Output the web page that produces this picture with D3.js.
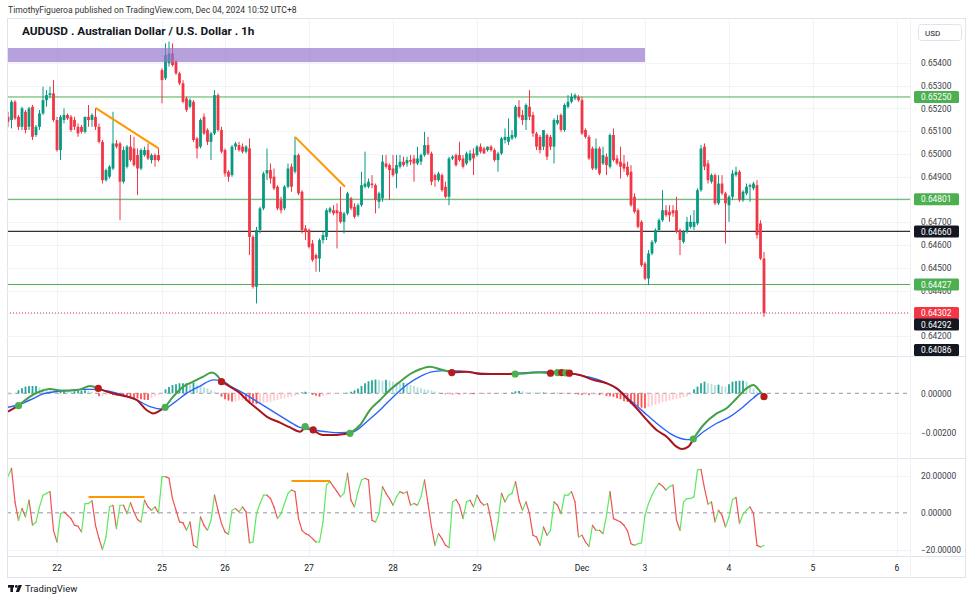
<!DOCTYPE html>
<html>
<head>
<meta charset="utf-8">
<script src="https://cdn.jsdelivr.net/npm/d3@7"></script>
<style>
  body { margin: 0; background: #fff; }
  text { font-family: Roboto, "DejaVu Sans", sans-serif; }
</style>
</head>
<body>
<svg id="chart" width="975" height="604"></svg>
<script>
// AUDUSD 1h candles, bar 0 = Nov 21 10:00 (UTC+8), one bar per trading hour
const opens = [
  0.65163,0.65149,0.65229,0.65163,0.65119,0.65185,0.65119,0.65207,0.65083,0.65119,
  0.65178,0.65236,0.65258,0.65266,0.65149,0.65017,0.65149,0.65171,0.65163,0.65149,
  0.65119,0.65119,0.65097,0.65163,0.65149,0.65163,0.65119,0.65053,0.64885,0.64900,
  0.64936,0.65046,0.65046,0.64878,0.64944,0.65032,0.65024,0.64995,0.64936,0.64995,
  0.65017,0.64973,0.64995,0.64995,0.65368,0.65332,0.65398,0.65441,0.65405,0.65354,
  0.65310,0.65244,0.65207,0.65229,0.65068,0.65032,0.65163,0.65105,0.65053,0.65090,
  0.65258,0.65105,0.65017,0.64922,0.64907,0.65032,0.65039,0.65032,0.65010,0.65024,
  0.64636,0.64417,0.64666,0.64761,0.64914,0.64929,0.64900,0.64856,0.64797,0.64761,
  0.64856,0.64944,0.64922,0.64995,0.64834,0.64673,0.64666,0.64607,0.64556,0.64541,
  0.64622,0.64636,0.64746,0.64753,0.64753,0.64746,0.64702,0.64739,0.64805,0.64768,
  0.64731,0.64775,0.64856,0.64856,0.64870,0.64863,0.64790,0.64805,0.64958,0.64951,
  0.64936,0.64914,0.64944,0.64966,0.64958,0.64973,0.64980,0.64958,0.64966,0.64995,
  0.65039,0.65002,0.64907,0.64885,0.64907,0.64856,0.64812,0.64980,0.64995,0.64995,
  0.64980,0.64958,0.64973,0.65002,0.64995,0.65032,0.65024,0.65017,0.65032,0.65017,
  0.64973,0.65002,0.65061,0.65053,0.65068,0.65075,0.65207,0.65171,0.65149,0.65207,
  0.65171,0.65090,0.65075,0.65032,0.65083,0.65075,0.65032,0.65134,0.65171,0.65105,
  0.65207,0.65229,0.65244,0.65251,0.65236,0.65105,0.65075,0.65024,0.64936,0.65024,
  0.64958,0.64988,0.64944,0.65083,0.64980,0.64966,0.64958,0.64944,0.64922,0.64812,
  0.64753,0.64702,0.64519,0.64453,0.64563,0.64614,0.64666,0.64709,0.64753,0.64746,
  0.64753,0.64753,0.64666,0.64614,0.64658,0.64680,0.64680,0.64695,0.64841,0.65032,
  0.64958,0.64878,0.64907,0.64783,0.64870,0.64827,0.64775,0.64812,0.64907,0.64922,
  0.64797,0.64827,0.64856,0.64849,0.64863,0.64695,0.64541
];
const highs = [
  0.65185,0.65236,0.65236,0.65171,0.65207,0.65193,0.65207,0.65215,0.65127,0.65193,
  0.65295,0.65280,0.65295,0.65324,0.65163,0.65171,0.65200,0.65178,0.65171,0.65163,
  0.65134,0.65127,0.65163,0.65215,0.65178,0.65200,0.65134,0.65061,0.64936,0.64951,
  0.65185,0.65061,0.65053,0.65032,0.65039,0.65083,0.65075,0.65024,0.65024,0.65032,
  0.65046,0.65002,0.65002,0.65024,0.65376,0.65485,0.65493,0.65485,0.65412,0.65361,
  0.65324,0.65251,0.65244,0.65236,0.65075,0.65156,0.65178,0.65112,0.65097,0.65280,
  0.65266,0.65119,0.65024,0.64929,0.65039,0.65053,0.65053,0.65046,0.65039,0.65068,
  0.64644,0.64680,0.64768,0.64922,0.65024,0.64958,0.64936,0.64863,0.64812,0.64863,
  0.64958,0.64958,0.65075,0.65002,0.64841,0.64687,0.64673,0.64622,0.64563,0.64629,
  0.64658,0.64761,0.64768,0.64775,0.64783,0.64856,0.64746,0.64834,0.64812,0.64783,
  0.64783,0.64922,0.65010,0.64892,0.64907,0.64870,0.64834,0.64995,0.64995,0.64958,
  0.64995,0.64995,0.64995,0.64988,0.64988,0.64995,0.64995,0.65032,0.65002,0.65097,
  0.65075,0.65010,0.64914,0.64922,0.64914,0.64878,0.64988,0.64995,0.65002,0.65053,
  0.64995,0.65010,0.65017,0.65024,0.65039,0.65046,0.65032,0.65032,0.65039,0.65024,
  0.65010,0.65075,0.65112,0.65156,0.65105,0.65215,0.65236,0.65193,0.65222,0.65280,
  0.65185,0.65097,0.65083,0.65105,0.65090,0.65083,0.65156,0.65171,0.65178,0.65222,
  0.65258,0.65266,0.65266,0.65258,0.65251,0.65112,0.65083,0.65032,0.65068,0.65032,
  0.65032,0.65002,0.65090,0.65112,0.64995,0.65032,0.64995,0.64966,0.64951,0.64827,
  0.64761,0.64709,0.64527,0.64578,0.64622,0.64673,0.64717,0.64841,0.64775,0.64775,
  0.64775,0.64812,0.64673,0.64666,0.64724,0.64731,0.64753,0.64849,0.65039,0.65046,
  0.64973,0.64914,0.64914,0.64907,0.64907,0.64834,0.64819,0.64929,0.64944,0.64929,
  0.64841,0.64870,0.64870,0.64878,0.64885,0.64709,0.64570
];
const lows = [
  0.65119,0.65112,0.65149,0.65105,0.65105,0.65090,0.65105,0.65061,0.65075,0.65105,
  0.65171,0.65207,0.65244,0.65141,0.65010,0.64973,0.65134,0.65149,0.65097,0.65105,
  0.65075,0.65090,0.65090,0.65119,0.65119,0.65105,0.65046,0.64870,0.64878,0.64892,
  0.64929,0.65024,0.64709,0.64870,0.64936,0.64966,0.64944,0.64819,0.64929,0.64988,
  0.64973,0.64958,0.64944,0.64966,0.65222,0.65324,0.65383,0.65383,0.65346,0.65302,
  0.65222,0.65185,0.65200,0.65053,0.64980,0.65024,0.65083,0.65039,0.64973,0.65083,
  0.65097,0.65002,0.64900,0.64878,0.64900,0.65017,0.65010,0.65002,0.65002,0.64556,
  0.64409,0.64344,0.64651,0.64753,0.64885,0.64870,0.64841,0.64753,0.64739,0.64753,
  0.64849,0.64834,0.64914,0.64819,0.64651,0.64622,0.64585,0.64527,0.64483,0.64483,
  0.64607,0.64622,0.64739,0.64731,0.64585,0.64695,0.64651,0.64731,0.64753,0.64717,
  0.64724,0.64768,0.64849,0.64849,0.64849,0.64739,0.64761,0.64790,0.64936,0.64797,
  0.64900,0.64849,0.64936,0.64944,0.64944,0.64951,0.64878,0.64951,0.64951,0.64988,
  0.64995,0.64863,0.64856,0.64878,0.64834,0.64805,0.64775,0.64973,0.64944,0.64966,
  0.64936,0.64951,0.64966,0.64907,0.64988,0.65002,0.65002,0.65010,0.65010,0.64966,
  0.64922,0.64995,0.65046,0.65039,0.65061,0.65068,0.65156,0.65127,0.65105,0.65149,
  0.65075,0.65017,0.65002,0.65017,0.64973,0.65017,0.64958,0.65127,0.65097,0.65097,
  0.65200,0.65222,0.65236,0.65229,0.65083,0.65068,0.64973,0.64929,0.64929,0.64907,
  0.64951,0.64907,0.64936,0.64966,0.64951,0.64892,0.64922,0.64900,0.64768,0.64739,
  0.64673,0.64505,0.64446,0.64424,0.64556,0.64607,0.64658,0.64702,0.64724,0.64702,
  0.64724,0.64651,0.64556,0.64607,0.64651,0.64673,0.64666,0.64687,0.64834,0.64929,
  0.64870,0.64870,0.64775,0.64775,0.64819,0.64607,0.64702,0.64797,0.64900,0.64790,
  0.64790,0.64819,0.64790,0.64841,0.64629,0.64534,0.64285
];
const closes = [
  0.65141,0.65229,0.65156,0.65119,0.65200,0.65105,0.65200,0.65075,0.65119,0.65178,
  0.65236,0.65258,0.65266,0.65149,0.65017,0.65163,0.65171,0.65156,0.65105,0.65119,
  0.65090,0.65097,0.65163,0.65149,0.65171,0.65119,0.65053,0.64885,0.64929,0.64944,
  0.65046,0.65032,0.64878,0.65017,0.65032,0.64973,0.64951,0.64936,0.65017,0.65017,
  0.64980,0.64995,0.64973,0.64973,0.65324,0.65434,0.65441,0.65390,0.65354,0.65310,
  0.65229,0.65193,0.65236,0.65061,0.65024,0.65149,0.65090,0.65053,0.65090,0.65258,
  0.65105,0.65010,0.64914,0.64900,0.65032,0.65046,0.65017,0.65010,0.65032,0.64636,
  0.64417,0.64666,0.64761,0.64914,0.64929,0.64892,0.64849,0.64761,0.64753,0.64856,
  0.64936,0.64856,0.64995,0.64827,0.64666,0.64658,0.64592,0.64534,0.64541,0.64622,
  0.64644,0.64753,0.64761,0.64739,0.64739,0.64702,0.64739,0.64827,0.64761,0.64724,
  0.64775,0.64863,0.64870,0.64878,0.64863,0.64797,0.64827,0.64966,0.64944,0.64929,
  0.64907,0.64951,0.64966,0.64951,0.64973,0.64966,0.64958,0.64980,0.64995,0.65039,
  0.65002,0.64878,0.64885,0.64914,0.64841,0.64812,0.64980,0.64988,0.64951,0.64973,
  0.64944,0.65002,0.65002,0.64980,0.65032,0.65010,0.65002,0.65032,0.65017,0.64973,
  0.65002,0.65068,0.65075,0.65075,0.65083,0.65207,0.65163,0.65149,0.65215,0.65163,
  0.65090,0.65032,0.65017,0.65105,0.64988,0.65032,0.65149,0.65149,0.65105,0.65215,
  0.65229,0.65251,0.65258,0.65236,0.65090,0.65075,0.64980,0.64936,0.65024,0.64914,
  0.64995,0.64951,0.65083,0.64973,0.64958,0.64944,0.64936,0.64907,0.64775,0.64746,
  0.64680,0.64512,0.64453,0.64563,0.64614,0.64666,0.64709,0.64753,0.64731,0.64731,
  0.64739,0.64658,0.64622,0.64658,0.64702,0.64702,0.64702,0.64841,0.65024,0.64944,
  0.64885,0.64907,0.64783,0.64870,0.64827,0.64783,0.64812,0.64914,0.64922,0.64797,
  0.64834,0.64856,0.64863,0.64870,0.64644,0.64541,0.64302
];

// MACD panel: [bar, value]
const macdLine = [
  [0,-0.00093],[6.3,-0.00017],[9.1,0.00009],[12,0.00022],[14.9,0.00014],[17.7,0.00014],[20.6,0.0002],[23.4,0.00037],
  [28.2,0.00009],[31,-0.00005],[33.9,-0.00017],[36.8,-0.00034],[39.6,-0.00085],[41.5,-0.00102],[43.4,-0.00088],
  [47.2,-0.00017],[50.1,0.00034],[52.9,0.00059],[55.8,0.00085],[58.2,0.00105],[59.6,0.00093],
  [63.4,0.00034],[66.3,0],[68.2,-0.00034],[71,-0.00076],[73.9,-0.00118],[77.7,-0.00149],[80.6,-0.00173],[83.4,-0.00195],
  [90.1,-0.00212],[93,-0.00212],
  [100.6,-0.00161],[103.4,-0.00085],[106.3,-0.00034],[109.1,0.00017],[112,0.00059],[114.9,0.00098],[117.7,0.00122],
  [120.6,0.00135],[123.4,0.00122],[131,0.0011],[135,0.00098],[138.7,0.00098],[148.2,0.00102],[152,0.00105],
  [163.4,0.00093],[167.2,0.00068],[171,0.00051],[173.9,0.00025],[176.8,-0.00025],[179.6,-0.00076],[182.5,-0.00135],
  [185.3,-0.00186],[188.2,-0.0022],[191,-0.00271],[192.5,-0.00283],[194.4,-0.00271],
  [198.7,-0.00161],[202.5,-0.00102],[205.3,-0.00076],[208.2,-0.00025],[211,0.00025],[212.9,0.00042],[214.9,0.00009]
];
const signalLine = [
  [0,-0.00071],[2.9,-0.00059],[6.3,-0.00034],[10.1,-0.00003],[13.9,0.00009],[17.7,0.00014],[21.5,0.0002],[25.3,0.0002],
  [29.1,0.00009],[33,-0.00009],[36.8,-0.00034],[40.6,-0.00068],[44.4,-0.00081],[47.2,-0.00051],[51,0],[54.9,0.00037],
  [58.7,0.00068],[61,0.00064],[63.8,0.00034],[68.2,-0.00009],[72,-0.00051],[75.8,-0.00093],[79.6,-0.00135],[83.4,-0.00173],
  [87.2,-0.00186],[91,-0.00195],[94.9,-0.002],[98.7,-0.00195],[102.5,-0.00144],[106.3,-0.00085],[110.1,-0.00017],
  [113.9,0.00042],[117.7,0.00085],[121.5,0.0011],[125.3,0.00115],[129.1,0.00113],[134.9,0.00102],[140.6,0.00098],
  [148.2,0.00105],[155.8,0.0011],[160.6,0.00102],[165.3,0.00085],[170.1,0.00059],[173.9,0.00025],[177.7,-0.00034],
  [181.5,-0.00093],[185.3,-0.00152],[189.1,-0.00203],[192,-0.00228],[194,-0.00235],[195.8,-0.00232],[198.7,-0.00195],
  [202.5,-0.00152],[206.3,-0.00118],[210.1,-0.00068],[212.9,-0.00025],[214.9,0],[216,-0.00012]
];
// crossover dots: [bar, value, 1 = up / -1 = down]
const macdCrosses = [
  [3,-0.00063,1],[25.8,0.00025,-1],[44.9,-0.00071,1],[61,0.00059,-1],[84.9,-0.00169,1],[87.2,-0.00186,-1],
  [97.7,-0.00203,1],[126.8,0.00105,-1],[144.9,0.00098,1],[155,0.00102,-1],[157,0.00105,1],[158.2,0.00105,-1],
  [159.4,0.00104,1],[160.4,0.00102,-1],[195.8,-0.00232,1],[216,-0.00017,-1]
];
const hist = [
  -0.00008,-0.00007,-0.00003,0.00015,0.00026,0.00034,0.00037,0.00037,0.00037,0.0003,
  0.00024,0.00015,0.00012,0.0001,0.00008,0.0001,0.00012,0.0001,0.00008,0.0001,
  0.00012,0.00014,0.00015,0.00012,0.00008,0.00003,-0.00015,-0.00014,-0.00008,-0.00006,
  -0.00009,-0.00012,-0.00014,-0.00016,-0.00017,-0.0002,-0.00022,-0.00026,-0.0003,-0.00033,
  -0.00034,-0.00022,-0.00015,-0.00008,-0.00003,0.0002,0.00032,0.00042,0.00046,0.00051,
  0.00051,0.00051,0.00046,0.00054,0.00042,0.00037,0.0003,0.00025,0.00017,0.00008,
  0.00003,-0.00017,-0.0003,-0.00037,-0.00042,-0.00042,-0.00037,-0.00034,-0.00037,-0.00046,
  -0.00051,-0.00054,-0.00051,-0.00048,-0.00044,-0.00042,-0.00037,-0.00034,-0.00027,-0.00025,
  -0.0002,-0.00017,-0.00012,-0.00008,0.00005,0.00008,0.00005,-0.00008,-0.00012,-0.00017,
  -0.00014,-0.00009,-0.00006,-0.00004,-0.00003,-0.00002,-0.00001,0.00003,0.00008,0.00015,
  0.00024,0.00037,0.00051,0.00061,0.00066,0.0007,0.00068,0.00064,0.00068,0.00064,
  0.00059,0.00054,0.00051,0.00054,0.00051,0.00042,0.00037,0.0003,0.00025,0.0002,
  0.00017,0.00014,0.00009,0.00004,-0.00003,-0.00005,-0.00005,-0.00006,-0.00005,-0.00006,
  -0.00005,-0.00003,-0.00004,-0.00005,-0.00003,-0.00002,-0.00003,-0.00002,-0.00001,-0.00003,
  -0.00002,0.00001,-0.00002,-0.00001,0.00004,0.0001,0.00012,0.0001,0.00006,0.00005,
  0.00003,0.00002,0.00003,0.00004,0.00002,-0.00002,0.00002,0.00003,-0.00003,0.00002,
  -0.00003,-0.00002,-0.00004,-0.00006,-0.00008,-0.00007,-0.00009,-0.00008,-0.00007,-0.00009,
  -0.00008,-0.00014,-0.00015,-0.00018,-0.00025,-0.0003,-0.0004,-0.00044,-0.00054,-0.00059,
  -0.00066,-0.00073,-0.00076,-0.0007,-0.00062,-0.00057,-0.00051,-0.00044,-0.00042,-0.00037,
  -0.00032,-0.00028,-0.00025,-0.0002,-0.00017,-0.00008,0.0002,0.00034,0.00051,0.00059,
  0.00051,0.00046,0.00042,0.00044,0.00037,0.00034,0.00046,0.00059,0.00062,0.00064,
  0.00064,0.00059,0.00042,0.00025,0.00009,-0.00003,-0.0001
];
// lower oscillator, one value per bar
const osc = [
  19.5,24.0,5.9,-4.0,2.3,-2.2,6.8,-6.7,-4.9,3.2,
  9.5,10.5,11.4,-9.4,-15.7,-0.4,0.5,-1.3,-3.1,-6.7,
  -7.2,-10.3,5.0,5.0,6.5,-6.7,-13.9,-19.8,-13.0,3.2,
  4.1,-8.5,4.1,4.1,-0.4,5.4,0.5,-3.6,-4.9,6.8,
  3.2,1.4,3.2,0,19.5,19.5,18.6,7.7,1.4,-4.9,
  -5.4,-9.4,-4.9,-17.5,-18.7,-2.2,-6.7,-9.4,-4.0,9.5,
  1.4,-5.8,-10.3,-11.5,1.4,2.3,0.5,3.2,0.5,-16.2,
  -15.7,-0.4,5.0,9.5,9.5,7.7,3.2,-3.1,-0.4,5.0,
  10.5,12.3,11.4,-3.1,-9.4,-11.2,-12.1,-13.9,-15.7,-15.7,
  -4.9,15.0,16.8,14.1,11.4,8.6,10.5,21.3,6.8,3.2,
  11.4,17.7,18.6,17.7,-4.0,-4.9,-0.4,14.1,10.5,7.7,
  4.1,8.6,11.4,10.5,11.4,4.1,5.0,4.1,8.6,17.7,
  5.0,-7.6,-17.5,-11.2,-13.9,-17.5,-18.7,5.9,7.2,4.1,
  -3.1,5.9,6.8,3.2,9.5,5.9,4.1,5.0,-4.0,-14.8,
  -4.9,10.5,5.9,9.5,10.5,16.8,6.8,1.4,5.9,-0.4,
  -12.1,-13.0,-17.5,-7.6,-12.1,-9.4,5.9,4.1,-0.4,9.5,
  9.5,11.4,5.9,-13.0,-12.1,-15.7,-18.0,-6.7,-9.4,-9.4,
  -11.2,-1.3,11.4,-3.1,-4.0,-4.9,-6.7,-9.7,-16.6,-17.5,
  -16.6,-16.2,-1.3,5.0,9.5,13.2,15.9,14.4,12.3,14.1,
  15.0,-4.0,-9.4,5.9,7.7,7.7,8.6,23.1,23.4,13.2,
  4.7,5.9,-4.9,1.4,-1.3,-7.6,-2.2,7.2,8.3,-5.8,
  -0.7,1.4,3.2,-0.4,-17.5,-18.4,-17.5
];

// time axis: bar index and label
const timeTickBars = [14, 44, 62, 86, 110, 134, 164, 182, 206, 230, 254];
const timeTickLabels = ["22", "25", "26", "27", "28", "29", "Dec", "3", "4", "5", "6"];

const priceTicks = [0.654, 0.653, 0.652, 0.651, 0.650, 0.649, 0.648, 0.647, 0.646, 0.645, 0.644, 0.643, 0.642];
const macdTicks = [0, -0.002];
const oscTicks = [20, 0, -20];

// horizontal drawings and right-axis badges
const greenLevels = [0.65250, 0.64801, 0.64427];
const blackLevel = 0.64660;
const lastPrice = 0.64302;
const badgeValues = [0.65250, 0.64801, 0.64660, 0.64427, 0.64302, 0.64292, 0.64086];
const badgeKinds = ["green", "green", "black", "green", "red", "black", "black"];
const zoneTop = 0.65465, zoneBottom = 0.65403, zoneEndBar = 182;
const trendLines = [[25, 0.65202, 43, 0.65024], [82, 0.65075, 96.3, 0.64856]];
const oscMarks = [[23, 39, 8.6], [81, 92, 17.1]];

// ---------------------------------------------------------------
const svg = d3.select("#chart");
const paneL = 7, paneR = 910, frameR = 965;
const mainTop = 20, mainBot = 356, macdBot = 458, oscBot = 556, frameBot = 578;

const x = d3.scaleLinear().domain([0, 216]).range([8, 764]);
const yMain = d3.scaleLinear().domain([0.654, 0.642]).range([62.8, 336.2]);
const yMacd = d3.scaleLinear().domain([0, -0.002]).range([393.3, 432.7]);
const yOsc = d3.scaleLinear().domain([20, -20]).range([475.7, 550]);

const col = {
  up: "#089981", down: "#f23645", grid: "#f0f3fa", border: "#e0e3eb", text: "#131722",
  green: "#4caf50", black: "#131722", red: "#f23645"
};

// header
svg.append("text").attr("x", 8).attr("y", 13).attr("font-size", 8.6).attr("fill", "#333")
  .text("TimothyFigueroa published on TradingView.com, Dec 04, 2024 10:52 UTC+8");

// frame and separators
const frame = svg.append("g").attr("stroke", col.border).attr("fill", "none");
frame.append("rect").attr("x", paneL + 0.5).attr("y", mainTop - 1.5).attr("width", frameR - paneL).attr("height", frameBot - mainTop + 1);
[mainBot, macdBot, oscBot].forEach(y => frame.append("line").attr("x1", paneL).attr("x2", frameR).attr("y1", y + 0.5).attr("y2", y + 0.5));
frame.append("line").attr("x1", paneR + 0.5).attr("x2", paneR + 0.5).attr("y1", mainTop).attr("y2", frameBot).attr("stroke", "#f0f1f4");

// grid
const grid = svg.append("g").attr("stroke", col.grid);
timeTickBars.forEach(b => grid.append("line").attr("x1", Math.round(x(b)) + 0.5).attr("x2", Math.round(x(b)) + 0.5)
  .attr("y1", mainTop).attr("y2", oscBot));
priceTicks.forEach(p => grid.append("line").attr("x1", paneL).attr("x2", paneR)
  .attr("y1", Math.round(yMain(p)) + 0.5).attr("y2", Math.round(yMain(p)) + 0.5));
grid.append("line").attr("x1", paneL).attr("x2", paneR).attr("y1", Math.round(yMacd(-0.002)) + 0.5).attr("y2", Math.round(yMacd(-0.002)) + 0.5);
[20, -20].forEach(v => grid.append("line").attr("x1", paneL).attr("x2", paneR)
  .attr("y1", Math.round(yOsc(v)) + 0.5).attr("y2", Math.round(yOsc(v)) + 0.5));

// clip paths
const defs = svg.append("defs");
defs.append("clipPath").attr("id", "clipMain").append("rect").attr("x", paneL + 1).attr("y", mainTop).attr("width", paneR - paneL - 1).attr("height", mainBot - mainTop);
defs.append("clipPath").attr("id", "clipMacd").append("rect").attr("x", paneL + 1).attr("y", mainBot + 1).attr("width", paneR - paneL - 1).attr("height", macdBot - mainBot - 1);
defs.append("clipPath").attr("id", "clipOsc").append("rect").attr("x", paneL + 1).attr("y", macdBot + 1).attr("width", paneR - paneL - 1).attr("height", oscBot - macdBot - 1);

// ---------------- main pane ----------------
const main = svg.append("g").attr("clip-path", "url(#clipMain)");

main.selectAll(".lvl").data(greenLevels).join("line").attr("class", "lvl")
  .attr("x1", paneL).attr("x2", paneR).attr("y1", d => yMain(d)).attr("y2", d => yMain(d))
  .attr("stroke", col.green).attr("stroke-width", 1);
main.append("line").attr("x1", paneL).attr("x2", paneR).attr("y1", yMain(blackLevel)).attr("y2", yMain(blackLevel))
  .attr("stroke", "#333").attr("stroke-width", 1.3);
main.append("line").attr("x1", paneL).attr("x2", paneR).attr("y1", yMain(lastPrice)).attr("y2", yMain(lastPrice))
  .attr("stroke", col.red).attr("stroke-width", 1).attr("stroke-dasharray", "1 2");

const bars = d3.range(opens.length);
const candle = main.append("g").selectAll("g").data(bars).join("g")
  .attr("stroke", i => closes[i] >= opens[i] ? col.up : col.down)
  .attr("fill", i => closes[i] >= opens[i] ? col.up : col.down);
candle.append("line").attr("x1", i => x(i)).attr("x2", i => x(i))
  .attr("y1", i => yMain(highs[i])).attr("y2", i => yMain(lows[i])).attr("stroke-width", 1);
candle.append("rect").attr("stroke", "none")
  .attr("x", i => x(i) - 1.4).attr("width", 2.8)
  .attr("y", i => yMain(Math.max(opens[i], closes[i])))
  .attr("height", i => Math.max(1, Math.abs(yMain(opens[i]) - yMain(closes[i]))));

// purple supply zone (semi-transparent over candles)
main.append("rect").attr("x", paneL).attr("width", x(zoneEndBar) - paneL)
  .attr("y", yMain(zoneTop)).attr("height", yMain(zoneBottom) - yMain(zoneTop))
  .attr("fill", "rgb(149,117,205)").attr("opacity", 0.68);

main.selectAll(".trend").data(trendLines).join("line").attr("class", "trend")
  .attr("x1", d => x(d[0])).attr("y1", d => yMain(d[1])).attr("x2", d => x(d[2])).attr("y2", d => yMain(d[3]))
  .attr("stroke", "#ff9800").attr("stroke-width", 2);

svg.append("text").attr("x", 22).attr("y", 35).attr("font-size", 11.8).attr("font-weight", "bold")
  .attr("font-family", "DejaVu Sans").attr("fill", col.text)
  .text("AUDUSD . Australian Dollar / U.S. Dollar . 1h");

// price axis
const axisFmt = d3.format(".5f");
const priceAxis = svg.append("g").attr("transform", `translate(${paneR + 4},0)`)
  .call(d3.axisRight(yMain).tickValues(priceTicks).tickFormat(axisFmt).tickSize(0).tickPadding(7));
priceAxis.select(".domain").remove();
priceAxis.selectAll("text").attr("font-size", 8.4).attr("fill", "#3a3e4a").attr("font-family", "Roboto");

// badges with simple collision push-down
const badgeFill = { green: col.green, black: col.black, red: col.red };
let prevY = -Infinity;
const badgeY = badgeValues.map(v => {
  let y = Math.max(yMain(v), prevY + 11.5);
  y = Math.min(y, mainBot - 6);
  prevY = y;
  return y;
});
const badge = svg.append("g").selectAll("g").data(badgeValues).join("g")
  .attr("transform", (d, i) => `translate(${paneR + 4},${badgeY[i]})`);
badge.append("rect").attr("x", 0).attr("y", -6).attr("width", 45).attr("height", 12).attr("rx", 1.5)
  .attr("fill", (d, i) => badgeFill[badgeKinds[i]]);
badge.append("text").attr("x", 7).attr("y", 3.2).attr("font-size", 8.4).attr("fill", "#fff").attr("font-family", "Roboto")
  .text(d => axisFmt(d));

// currency box
svg.append("rect").attr("x", 918.5).attr("y", 24.5).attr("width", 43).attr("height", 16).attr("rx", 3)
  .attr("fill", "#fff").attr("stroke", "#e0e3eb");
svg.append("text").attr("x", 925).attr("y", 35.5).attr("font-size", 8).attr("fill", col.text).text("USD");

// ---------------- MACD pane ----------------
const macdG = svg.append("g").attr("clip-path", "url(#clipMacd)");
macdG.append("line").attr("x1", paneL).attr("x2", paneR).attr("y1", yMacd(0)).attr("y2", yMacd(0))
  .attr("stroke", "#9598a1").attr("stroke-dasharray", "4 4");

const histColor = i => {
  const h = hist[i], p = i > 0 ? hist[i - 1] : h;
  if (h >= 0) return h >= p ? "#26a69a" : "#b2dfdb";
  return h < p ? "#ff5252" : "#ffcdd2";
};
macdG.selectAll(".hist").data(bars).join("rect").attr("class", "hist")
  .attr("x", i => x(i) - 0.9).attr("width", 1.8)
  .attr("y", i => Math.min(yMacd(0), yMacd(hist[i])))
  .attr("height", i => Math.abs(yMacd(hist[i]) - yMacd(0)))
  .attr("fill", histColor);

const lineGen = d3.line().x(d => x(d[0])).y(d => yMacd(d[1])).curve(d3.curveMonotoneX);
macdG.append("path").attr("d", lineGen(signalLine)).attr("fill", "none").attr("stroke", "#2962ff").attr("stroke-width", 1.4);

// MACD line coloured by the last crossover
const allPts = macdLine.concat(macdCrosses.map(c => [c[0], c[1]])).sort((a, b) => a[0] - b[0]);
const bounds = [-Infinity].concat(macdCrosses.map(c => c[0]), [Infinity]);
for (let k = 0; k < bounds.length - 1; k++) {
  const seg = allPts.filter(p => p[0] >= bounds[k] && p[0] <= bounds[k + 1]);
  if (seg.length < 2) continue;
  const dir = k === 0 ? -macdCrosses[0][2] : macdCrosses[k - 1][2];
  macdG.append("path").attr("d", lineGen(seg)).attr("fill", "none")
    .attr("stroke", dir > 0 ? "#43a047" : "#a8161b").attr("stroke-width", 2);
}
macdG.selectAll(".dot").data(macdCrosses).join("circle").attr("class", "dot")
  .attr("cx", d => x(d[0])).attr("cy", d => yMacd(d[1])).attr("r", 3.6)
  .attr("fill", d => d[2] > 0 ? "#4caf50" : "#b71c1c");

const macdAxis = svg.append("g").attr("transform", `translate(${paneR + 4},0)`)
  .call(d3.axisRight(yMacd).tickValues(macdTicks).tickFormat(axisFmt).tickSize(0).tickPadding(7));
macdAxis.select(".domain").remove();
macdAxis.selectAll("text").attr("font-size", 8.4).attr("fill", "#3a3e4a").attr("font-family", "Roboto");

// ---------------- oscillator pane ----------------
const oscG = svg.append("g").attr("clip-path", "url(#clipOsc)");
oscG.append("line").attr("x1", paneL).attr("x2", paneR).attr("y1", yOsc(0)).attr("y2", yOsc(0))
  .attr("stroke", "#9598a1").attr("stroke-dasharray", "4 4");
oscG.selectAll(".seg").data(bars.slice(1)).join("line").attr("class", "seg")
  .attr("x1", i => x(i - 1)).attr("y1", i => yOsc(osc[i - 1]))
  .attr("x2", i => x(i)).attr("y2", i => yOsc(osc[i]))
  .attr("stroke", i => osc[i] >= osc[i - 1] ? "#5ee85e" : "#f05252")
  .attr("stroke-width", 1.2).attr("stroke-linecap", "round");
oscG.selectAll(".omark").data(oscMarks).join("line").attr("class", "omark")
  .attr("x1", d => x(d[0])).attr("x2", d => x(d[1])).attr("y1", d => yOsc(d[2])).attr("y2", d => yOsc(d[2]))
  .attr("stroke", "#ff9800").attr("stroke-width", 2);

const oscAxis = svg.append("g").attr("transform", `translate(${paneR + 4},0)`)
  .call(d3.axisRight(yOsc).tickValues(oscTicks).tickFormat(axisFmt).tickSize(0).tickPadding(7));
oscAxis.select(".domain").remove();
oscAxis.selectAll("text").attr("font-size", 8.4).attr("fill", "#3a3e4a").attr("font-family", "Roboto");

// ---------------- time axis ----------------
svg.append("g").selectAll("text").data(timeTickBars).join("text")
  .attr("x", d => x(d)).attr("y", 571).attr("text-anchor", "middle")
  .attr("font-size", 8.6).attr("fill", col.text)
  .text((d, i) => timeTickLabels[i]);

// footer logo
const logo = svg.append("g").attr("transform", "translate(8,585)").attr("fill", col.text);
logo.append("rect").attr("x", 0).attr("y", 0).attr("width", 6).attr("height", 2.6);
logo.append("rect").attr("x", 2.4).attr("y", 0).attr("width", 2.6).attr("height", 7);
logo.append("circle").attr("cx", 8.3).attr("cy", 1.4).attr("r", 1.4);
logo.append("path").attr("d", "M10.5,0 L14,0 L11,7 L7.8,7 Z");
svg.append("text").attr("x", 25).attr("y", 592).attr("font-size", 9.5).attr("fill", col.text).text("TradingView");
</script>
</body>
</html>
